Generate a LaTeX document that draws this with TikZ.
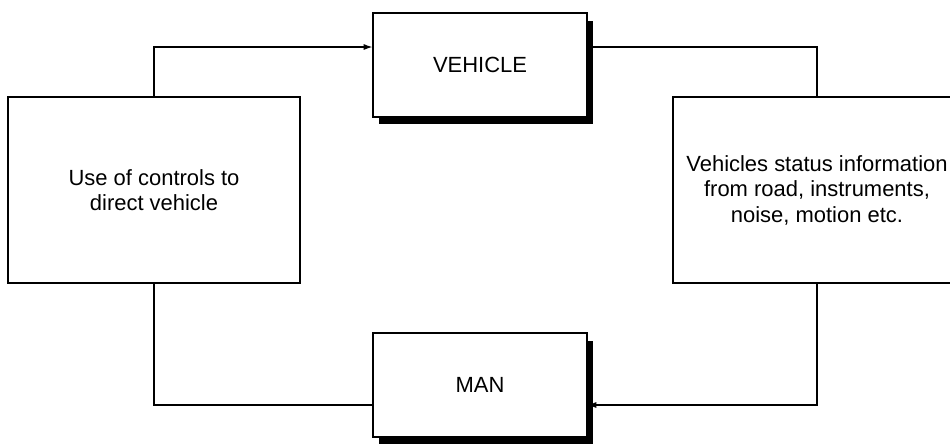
\documentclass[tikz,border=0pt]{standalone}
\usepackage{fontspec}
\setmainfont{Liberation Sans}
\usetikzlibrary{shadows,arrows.meta}
\begin{document}
\begin{tikzpicture}[x=0.02cm,y=-0.02cm,
  blk/.style={draw,line width=0.8pt,fill=white,align=center,inner sep=0pt,font=\fontsize{12.5}{14.5}\selectfont},
  shd/.style={blk,drop shadow={shadow xshift=0.12cm,shadow yshift=-0.15cm,fill=black,opacity=1}},
  ln/.style={line width=0.6pt},
  tip/.style={-{Latex[length=5pt,width=3.5pt]}}]
\useasboundingbox (0,0) rectangle (950,444);
\node[shd,minimum width=4.28cm,minimum height=2.08cm] (veh) at (480,65) {VEHICLE};
\node[shd,minimum width=4.28cm,minimum height=2.08cm] (man) at (480,385) {MAN};
\node[blk,minimum width=5.84cm,minimum height=3.72cm] (ctl) at (154,190) {Use of controls to\\direct vehicle};
\node[blk,minimum width=5.76cm,minimum height=3.72cm] (inf) at (817,190) {Vehicles status information\\from road, instruments,\\noise, motion etc.};
% loop
\draw[ln,tip] (ctl.north) |- ([yshift=0.36cm]veh.west);
\draw[ln] ([yshift=0.36cm]veh.east) -| (inf.north);
\draw[ln,tip] (inf.south) |- ([yshift=-0.4cm]man.east);
\draw[ln] ([yshift=-0.4cm]man.west) -| (ctl.south);
\end{tikzpicture}
\end{document}
